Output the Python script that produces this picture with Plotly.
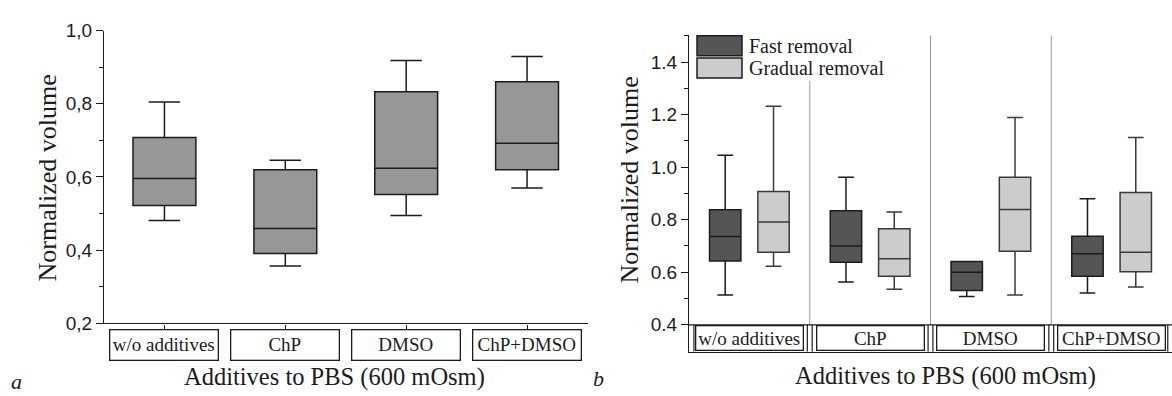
import plotly.graph_objects as go

W, H = 1172, 396

categories = ["w/o additives", "ChP", "DMSO", "ChP+DMSO"]

# Panel a: single series
a_upper = [0.805, 0.646, 0.918, 0.929]
a_q3 = [0.708, 0.620, 0.833, 0.860]
a_median = [0.596, 0.459, 0.624, 0.692]
a_q1 = [0.522, 0.391, 0.552, 0.620]
a_lower = [0.481, 0.357, 0.495, 0.570]

# Panel b: two series
series_names = ["Fast removal", "Gradual removal"]
fast_upper = [1.045, 0.962, 0.641, 0.880]
fast_q3 = [0.838, 0.834, 0.641, 0.737]
fast_median = [0.736, 0.700, 0.600, 0.670]
fast_q1 = [0.643, 0.638, 0.531, 0.585]
fast_lower = [0.513, 0.563, 0.508, 0.521]

grad_upper = [1.232, 0.829, 1.189, 1.113]
grad_q3 = [0.907, 0.766, 0.962, 0.904]
grad_median = [0.791, 0.651, 0.839, 0.676]
grad_q1 = [0.676, 0.585, 0.680, 0.602]
grad_lower = [0.623, 0.535, 0.513, 0.544]

a_ticks = [0.2, 0.4, 0.6, 0.8, 1.0]
a_ticktext = ["0,2", "0,4", "0,6", "0,8", "1,0"]
a_minor = [0.3, 0.5, 0.7, 0.9]
b_ticks = [0.4, 0.6, 0.8, 1.0, 1.2, 1.4]
b_ticktext = ["0.4", "0.6", "0.8", "1.0", "1.2", "1.4"]
b_minor = [0.5, 0.7, 0.9, 1.1, 1.3, 1.5]

x_title = "Additives to PBS (600 mOsm)"
y_title = "Normalized volume"

INK = "#1c1c1c"
SERIF = "Liberation Serif, Times New Roman, serif"
SANS = "Liberation Sans, Arial, sans-serif"

def px(x):
    return x / W

def py(y):
    return (H - y) / H

fig = go.Figure()

fig.add_trace(go.Box(
    x=categories, q1=a_q1, median=a_median, q3=a_q3,
    lowerfence=a_lower, upperfence=a_upper,
    xaxis="x", yaxis="y", name="all",
    alignmentgroup="pa", offsetgroup="pa0",
    fillcolor="#979797", line=dict(color=INK, width=1.5),
    boxpoints=False, showlegend=False, hoverinfo="skip",
))
fig.add_trace(go.Box(
    x=categories, q1=fast_q1, median=fast_median, q3=fast_q3,
    lowerfence=fast_lower, upperfence=fast_upper,
    xaxis="x2", yaxis="y2", name=series_names[0],
    alignmentgroup="pb", offsetgroup="pb0",
    fillcolor="#555555", line=dict(color=INK, width=1.5),
    boxpoints=False, showlegend=False, hoverinfo="skip",
))
fig.add_trace(go.Box(
    x=categories, q1=grad_q1, median=grad_median, q3=grad_q3,
    lowerfence=grad_lower, upperfence=grad_upper,
    xaxis="x2", yaxis="y2", name=series_names[1],
    alignmentgroup="pb", offsetgroup="pb1",
    fillcolor="#cccccc", line=dict(color="#3a3a3a", width=1.5),
    boxpoints=False, showlegend=False, hoverinfo="skip",
))

axis_common = dict(showgrid=False, zeroline=False, showline=True,
                   linecolor=INK, linewidth=1.3, fixedrange=True)

fig.update_layout(
    width=W, height=H,
    margin=dict(l=0, r=0, t=0, b=0),
    paper_bgcolor="white", plot_bgcolor="white",
    boxmode="group", boxgap=0.2, boxgroupgap=0.35,
    showlegend=False,
    xaxis=dict(domain=[px(104), px(587.5)], type="category",
               range=[-0.5, 3.5], anchor="y", ticks="outside",
               ticklen=6, tickcolor=INK, tickwidth=1.3,
               showticklabels=False, **axis_common),
    yaxis=dict(domain=[py(331), py(21.7)], range=[0.2, 1.0], anchor="x",
               tickvals=a_ticks, ticktext=a_ticktext, ticks="outside",
               ticklen=7, tickcolor=INK, tickwidth=1.3,
               tickfont=dict(family=SANS, size=19, color=INK),
               minor=dict(tickvals=a_minor, ticks="outside", ticklen=4,
                          tickcolor=INK, tickwidth=1.2),
               **axis_common),
    xaxis2=dict(domain=[px(689), 1.0], type="category",
                range=[-0.5, 3.5], anchor="y2", ticks="",
                showticklabels=False, **axis_common),
    yaxis2=dict(domain=[py(361), py(26.7)], range=[0.297, 1.502],
                anchor="x2", tickvals=b_ticks, ticktext=b_ticktext,
                ticks="outside", ticklen=7, tickcolor=INK, tickwidth=1.3,
                tickfont=dict(family=SANS, size=19, color=INK),
                minor=dict(tickvals=b_minor, ticks="outside", ticklen=4,
                           tickcolor=INK, tickwidth=1.2),
                **axis_common),
)

shapes = []
# baseline of panel b at 0.4 (top of the category strip)
shapes.append(dict(type="line", xref="x2", yref="y2", x0=-0.5, x1=3.5,
                   y0=0.4, y1=0.4, line=dict(color=INK, width=1.3)))
# group separators
for b, top in [(0.5, 1.328), (1.5, 1.502), (2.5, 1.502)]:
    shapes.append(dict(type="line", xref="x2", yref="y2", x0=b, x1=b,
                       y0=0.4, y1=top, line=dict(color="#9a9a9a", width=1),
                       layer="below"))
# double lines in the category strip
strip_lines = [-0.5 + 0.041, 0.5 - 0.02, 0.5 + 0.02, 1.5 - 0.02, 1.5 + 0.02,
               2.5 - 0.02, 2.5 + 0.02, 3.5 - 0.035]
for xv in strip_lines:
    shapes.append(dict(type="line", xref="x2", yref="y2", x0=xv, x1=xv,
                       y0=0.297, y1=0.4, line=dict(color=INK, width=1.2)))
# legend swatches
for (y0, y1), col in zip([(27.3, 48.3), (50.7, 71.7)], ["#555555", "#cccccc"]):
    shapes.append(dict(type="rect", xref="paper", yref="paper",
                       x0=px(697), x1=px(742), y0=py(y1), y1=py(y0),
                       fillcolor=col, line=dict(color=INK, width=1.5)))
fig.update_layout(shapes=shapes)

ann = []
for i, c in enumerate(categories):
    ann.append(dict(text=c, xref="x", yref="paper", x=i, y=py(354),
                    showarrow=False, width=107, height=29,
                    bordercolor=INK, borderwidth=1.3, borderpad=0,
                    bgcolor="white", xanchor="center", yanchor="middle",
                    font=dict(family=SERIF, size=19, color=INK)))
    ann.append(dict(text=c, xref="x2", yref="paper", x=i, y=py(346.7),
                    showarrow=False, width=106, height=23.5,
                    bordercolor=INK, borderwidth=1.3, borderpad=0,
                    bgcolor="white", xanchor="center", yanchor="middle",
                    font=dict(family=SERIF, size=19, color=INK)))

for name, yc in zip(series_names, [37.8, 61.2]):
    ann.append(dict(text=name, xref="paper", yref="paper", x=px(747),
                    y=py(yc), xanchor="left", yanchor="middle",
                    showarrow=False,
                    font=dict(family=SERIF, size=20, color=INK)))

for xc, yc in [(47.8, 177), (629, 180)]:
    ann.append(dict(text=y_title, xref="paper", yref="paper", x=px(xc),
                    y=py(yc), textangle=-90, showarrow=False,
                    xanchor="center", yanchor="middle",
                    font=dict(family=SERIF, size=26, color=INK)))
for xc, yc in [(334.5, 388), (945.6, 387)]:
    ann.append(dict(text=x_title, xref="paper", yref="paper", x=px(xc),
                    y=py(yc), showarrow=False, xanchor="center",
                    yanchor="middle",
                    font=dict(family=SERIF, size=24.5, color=INK)))
for t, xc, yc in [("a", 16, 392), ("b", 598, 389)]:
    ann.append(dict(text="<i>%s</i>" % t, xref="paper", yref="paper",
                    x=px(xc), y=py(yc), showarrow=False, xanchor="center",
                    yanchor="middle",
                    font=dict(family=SERIF, size=22, color=INK)))
fig.update_layout(annotations=ann)

fig.write_html("out.html")
